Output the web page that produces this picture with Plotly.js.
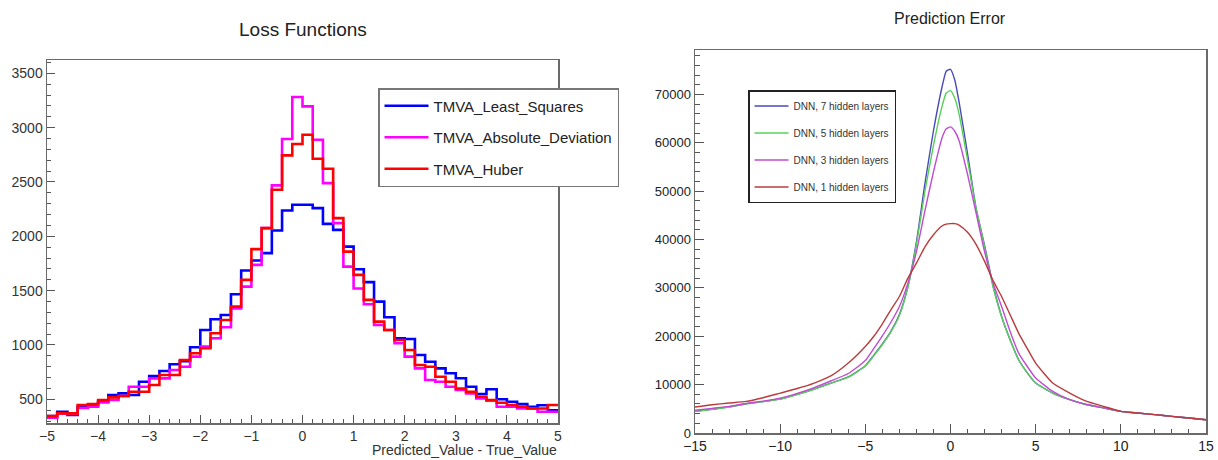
<!DOCTYPE html>
<html>
<head>
<meta charset="utf-8">
<script src="https://cdn.plot.ly/plotly-3.0.1.min.js"></script>
<style>html,body{margin:0;padding:0;background:#fff;}#chart{width:1218px;height:460px;}</style>
</head>
<body>
<div id="chart"></div>
<script>
// ---------- Left panel: Loss Functions (50 bins, -5..5) ----------
const lossBinStart = -5;
const lossBinWidth = 0.2;
const leastSquares = [345,386,355,432,440,478,540,555,540,662,715,760,822,850,979,1138,1236,1276,1467,1685,1777,1845,2053,2237,2290,2290,2259,2114,2059,1905,1697,1578,1399,1255,1062,1055,908,846,785,740,694,616,549,592,500,477,456,431,446,400];
const absoluteDeviation = [330,370,365,420,432,470,494,530,616,616,693,693,770,800,893,985,1062,1163,1337,1537,1737,2075,2468,2895,3281,3195,2888,2489,2121,1721,1520,1375,1184,1138,1016,893,785,678,662,616,585,555,509,487,431,431,416,416,385,385];
const huber = [345,371,371,448,457,494,518,530,570,570,632,724,724,862,924,970,1108,1230,1353,1599,1882,2075,2428,2744,2849,2934,2713,2621,2167,1859,1645,1415,1215,1138,1046,954,816,800,708,662,600,570,524,494,469,447,431,416,416,447];
const lossNames = ["TMVA_Least_Squares","TMVA_Absolute_Deviation","TMVA_Huber"];

// ---------- Right panel: Prediction Error ----------
const errX = [-15,-14,-13,-12,-11,-10,-9,-8,-7,-6,-5,-4.5,-4,-3.5,-3,-2.5,-2,-1.5,-1,-0.5,-0.25,0,0.25,0.5,1,1.5,2,2.5,3,3.5,4,4.5,5,6,7,8,9,10,11,12,13,14,15];
const dnn7 = [4470,4900,5400,6060,6500,7020,8000,9090,10330,11600,13900,16100,18400,21000,24500,30300,39500,51600,62500,71500,74800,75200,73000,68500,57800,46500,38800,30500,24100,19280,15150,12500,10330,8260,6890,5850,5170,4470,4130,3790,3440,3100,2750];
const dnn5 = [4450,4880,5380,6000,6480,7000,7950,9050,10300,11550,13850,16000,18300,20900,24300,30200,39000,50000,59500,67500,70300,70800,69200,66000,56500,46500,38500,30200,24100,19280,15150,12500,10330,8260,6890,5850,5170,4470,4130,3790,3440,3100,2750];
const dnn3 = [4700,5100,5500,6100,6600,7200,8200,9400,10800,12300,15000,17500,20100,22900,26160,31000,37500,46000,54000,61000,62900,63300,62400,60500,53500,45500,37500,31000,26160,21000,16530,13800,11360,8600,6890,5900,5200,4470,4130,3790,3440,3100,2750];
const dnn1 = [5370,5850,6200,6530,7300,8260,9200,10330,11850,14460,17900,20000,22590,25470,28230,32020,35120,38500,41000,42800,43200,43300,43300,43000,41500,39000,35500,31500,28230,24450,20660,17500,14460,10330,8260,6530,5500,4470,4130,3790,3440,3100,2750];
const dnnNames = ["DNN, 7 hidden layers","DNN, 5 hidden layers","DNN, 3 hidden layers","DNN, 1 hidden layers"];

const FONT = "Liberation Sans, Arial, Helvetica, sans-serif";

function stepTrace(vals, name, color, group) {
  const xs = [], ys = [];
  for (let i = 0; i < vals.length; i++) { xs.push(lossBinStart + i * lossBinWidth); ys.push(vals[i]); }
  xs.push(lossBinStart + vals.length * lossBinWidth); ys.push(vals[vals.length - 1]);
  return {x: xs, y: ys, type: 'scatter', mode: 'lines', name: name,
    line: {shape: 'hv', color: color, width: 2.6}, xaxis: 'x', yaxis: 'y',
    legend: 'legend', legendgroup: group};
}
function curveTrace(vals, name, color, group) {
  return {x: errX, y: vals, type: 'scatter', mode: 'lines', name: name,
    line: {shape: 'spline', smoothing: 0.5, color: color, width: 1.4}, xaxis: 'x2', yaxis: 'y2',
    legend: 'legend2', legendgroup: group};
}

const traces = [
  stepTrace(leastSquares, lossNames[0], '#0000ff', 'a'),
  stepTrace(absoluteDeviation, lossNames[1], '#ff00ff', 'b'),
  stepTrace(huber, lossNames[2], '#ff0000', 'c'),
  curveTrace(dnn7, dnnNames[0], '#4a4ab8', 'e'),
  curveTrace(dnn5, dnnNames[1], '#58d058', 'f'),
  curveTrace(dnn3, dnnNames[2], '#c04cd0', 'g'),
  curveTrace(dnn1, dnnNames[3], '#b83c3c', 'h')
];

const W = 1218, H = 460;
const axisCommon = {showline: true, mirror: true, linecolor: '#6a6a6a', linewidth: 1.5,
  ticks: 'inside', tickcolor: '#555', showgrid: false, zeroline: false,
  tickfont: {family: FONT, size: 14, color: '#333'}};

const layout = {
  width: W, height: H,
  margin: {l: 0, r: 0, t: 0, b: 0},
  paper_bgcolor: '#fff', plot_bgcolor: '#fff',
  font: {family: FONT},
  xaxis: Object.assign({}, axisCommon, {
    domain: [47 / W, 558 / W], range: [-5, 5], dtick: 1, tick0: 0, ticklen: 8,
    minor: {dtick: 0.2, ticks: 'inside', ticklen: 4, tickcolor: '#555'}, anchor: 'y'}),
  yaxis: Object.assign({}, axisCommon, {
    domain: [(H - 423) / H, (H - 60) / H], range: [282, 3622], dtick: 500, tick0: 0, ticklen: 8,
    minor: {dtick: 100, ticks: 'inside', ticklen: 4, tickcolor: '#555'}, anchor: 'x'}),
  xaxis2: Object.assign({}, axisCommon, {
    domain: [695 / W, 1206 / W], range: [-15, 15], dtick: 5, tick0: 0, ticklen: 9,
    minor: {dtick: 1, ticks: 'inside', ticklen: 4, tickcolor: '#555'}, anchor: 'y2',
    tickfont: {family: FONT, size: 14, color: '#222'}}),
  yaxis2: Object.assign({}, axisCommon, {
    domain: [(H - 433) / H, (H - 50) / H], range: [0, 79200], dtick: 10000, tick0: 0, ticklen: 9,
    tickformat: 'd',
    minor: {dtick: 2000, ticks: 'inside', ticklen: 5, tickcolor: '#555'}, anchor: 'x2',
    tickfont: {family: FONT, size: 13, color: '#222'}}),
  showlegend: true,
  legend: {x: 378 / W, y: 1 - 88 / H, xanchor: 'left', yanchor: 'top',
    bgcolor: '#fff', bordercolor: '#777', borderwidth: 1.5, itemwidth: 44,
    font: {family: FONT, size: 15, color: '#222'}, tracegroupgap: 9, traceorder: 'grouped'},
  legend2: {x: 748 / W, y: 1 - 90 / H, xanchor: 'left', yanchor: 'top',
    bgcolor: '#fff', bordercolor: '#222', borderwidth: 1.5, itemwidth: 34,
    font: {family: FONT, size: 10, color: '#333'}, tracegroupgap: 8, traceorder: 'grouped'},
  annotations: [
    {text: 'Loss Functions', xref: 'paper', yref: 'paper', x: 303 / W, y: 1 - 30 / H,
      xanchor: 'center', yanchor: 'middle', showarrow: false, font: {family: FONT, size: 19, color: '#222'}},
    {text: 'Prediction Error', xref: 'paper', yref: 'paper', x: 950 / W, y: 1 - 18 / H,
      xanchor: 'center', yanchor: 'middle', showarrow: false, font: {family: FONT, size: 16, color: '#222'}},
    {text: 'Predicted_Value - True_Value', xref: 'paper', yref: 'paper', x: 559 / W, y: 1 - 450 / H,
      xanchor: 'right', yanchor: 'middle', showarrow: false, font: {family: FONT, size: 14, color: '#333'}}
  ]
};

Plotly.newPlot('chart', traces, layout, {staticPlot: true, displayModeBar: false});
</script>
</body>
</html>
